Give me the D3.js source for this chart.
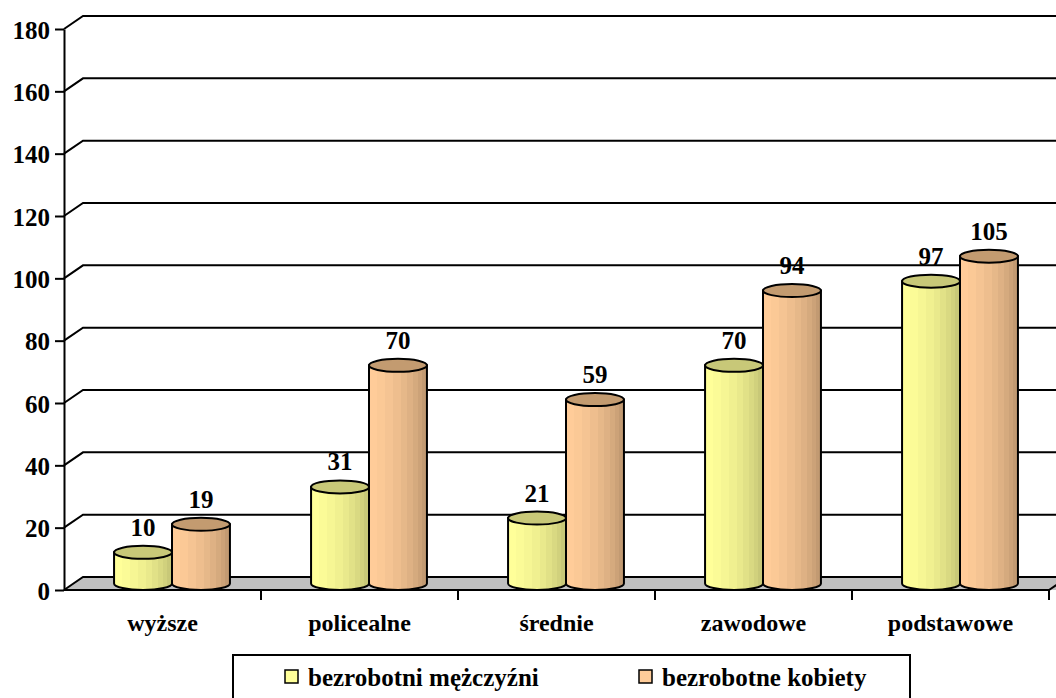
<!DOCTYPE html>
<html>
<head>
<meta charset="utf-8">
<script src="https://cdn.jsdelivr.net/npm/d3@7"></script>
<style>
  body { margin: 0; background: #fff; }
  svg text { font-family: "Liberation Serif", "Times New Roman", Tinos, "DejaVu Serif", serif; font-weight: bold; fill: #000; }
</style>
</head>
<body>
<svg id="chart" width="1056" height="698"></svg>
<script>
// dane
const categories = ["wyższe", "policealne", "średnie", "zawodowe", "podstawowe"];
const seriesNames = ["bezrobotni mężczyźni", "bezrobotne kobiety"];
const men = [10, 31, 21, 70, 97];
const women = [19, 70, 59, 94, 105];
const yTicks = [0, 20, 40, 60, 80, 100, 120, 140, 160, 180];

const seriesValues = [men, women];
const sideColors = [["#ffff99", "#c8c878"], ["#ffcc99", "#c29a72"]];
const topColors = ["#c8c878", "#c39b70"];
const swatch = ["#ffff99", "#ffcc99"];
const FONT = "'Liberation Serif', 'Times New Roman', Tinos, 'DejaVu Serif', serif";

// glebokosc 3D
const DX = 19, DY = -13;

const svg = d3.select("#chart");

const y = d3.scaleLinear().domain([0, 180]).range([590, 29]);
const x0 = d3.scaleBand().domain(categories).range([64, 1049]);
const x1 = d3.scaleBand().domain(seriesNames).range([0, x0.bandwidth()]).paddingOuter(0.7);

// gradienty dla cylindrow (schodkowe, jak fasety)
const defs = svg.append("defs");
const facets = [0, 0.14, 0.28, 0.42, 0.55, 0.66, 0.76, 0.84, 0.91, 1];
sideColors.forEach(function (c, i) {
  const g = defs.append("linearGradient").attr("id", "side" + i)
    .attr("x1", 0).attr("x2", 1).attr("y1", 0).attr("y2", 0);
  const interp = d3.interpolateRgb(c[0], c[1]);
  for (let k = 0; k < facets.length - 1; k++) {
    const t = k === 0 ? 0.02 : k / (facets.length - 2);
    const col = interp(Math.pow(t, 1.3));
    g.append("stop").attr("offset", facets[k]).attr("stop-color", col);
    g.append("stop").attr("offset", facets[k + 1]).attr("stop-color", col);
  }
});

// linie siatki (tylna sciana)
svg.append("g").selectAll("path")
  .data(yTicks.slice(1))
  .enter().append("path")
  .attr("d", function (d) {
    return "M64," + y(d) + "L" + (64 + DX) + "," + (y(d) + DY) + "L1080," + (y(d) + DY);
  })
  .attr("fill", "none").attr("stroke", "#000").attr("stroke-width", 2);

// podloga
svg.append("path")
  .attr("d", "M64," + y(0) + "L" + (64 + DX) + "," + (y(0) + DY) + "L1080," + (y(0) + DY) +
    "L1080," + y(0) + "L1049," + y(0) + "Z")
  .attr("fill", "#c0c0c0").attr("stroke", "none");
svg.append("path")
  .attr("d", "M64," + y(0) + "L" + (64 + DX) + "," + (y(0) + DY) + "L1080," + (y(0) + DY) +
    "M1049," + y(0) + "L" + (1049 + DX) + "," + (y(0) + DY))
  .attr("fill", "none").attr("stroke", "#000").attr("stroke-width", 2);

// os Y
const yAxis = svg.append("g")
  .attr("transform", "translate(64,0)")
  .call(d3.axisLeft(y).tickValues(yTicks).tickSize(9).tickPadding(5).tickSizeOuter(0));
yAxis.attr("font-family", null);
yAxis.select(".domain").attr("stroke", "#000").attr("stroke-width", 2);
yAxis.selectAll(".tick line").attr("stroke", "#000").attr("stroke-width", 2);
yAxis.selectAll(".tick text").attr("font-size", 25).attr("dy", "0.36em")
  .style("font-family", FONT).style("font-weight", "bold");

// os X
const xAxis = svg.append("g")
  .attr("transform", "translate(0," + y(0) + ")")
  .call(d3.axisBottom(x0).tickSize(0).tickPadding(24).tickSizeOuter(0));
xAxis.attr("font-family", null);
xAxis.select(".domain").remove();
xAxis.selectAll(".tick text").attr("font-size", 24)
  .style("font-family", FONT).style("font-weight", "bold");
svg.append("line").attr("x1", 64).attr("x2", 1049).attr("y1", y(0)).attr("y2", y(0))
  .attr("stroke", "#000").attr("stroke-width", 2);
svg.append("g").selectAll("line")
  .data(categories.slice(1).map(function (c) { return x0(c); }).concat([x0.range()[1]]))
  .enter().append("line")
  .attr("x1", function (d) { return d; }).attr("x2", function (d) { return d; })
  .attr("y1", y(0)).attr("y2", y(0) + 10)
  .attr("stroke", "#000").attr("stroke-width", 2);

// cylindry
const w = x1.bandwidth();
const ry = -DY / 2;
const bars = [];
categories.forEach(function (c, ci) {
  seriesNames.forEach(function (s, si) {
    bars.push({ cat: c, s: s, si: si, v: seriesValues[si][ci] });
  });
});

const barG = svg.append("g").selectAll("g")
  .data(bars)
  .enter().append("g");

barG.append("path")
  .attr("d", function (d) {
    const x = x0(d.cat) + x1(d.s) + DX / 2;
    const yt = y(d.v) + DY / 2;
    const yb = y(0) + DY / 2;
    return "M" + x + "," + yt + "L" + x + "," + yb +
      "A" + (w / 2) + "," + ry + " 0 0 0 " + (x + w) + "," + yb +
      "L" + (x + w) + "," + yt + "Z";
  })
  .attr("fill", function (d) { return "url(#side" + d.si + ")"; })
  .attr("stroke", "#000").attr("stroke-width", 2);

barG.append("ellipse")
  .attr("cx", function (d) { return x0(d.cat) + x1(d.s) + DX / 2 + w / 2; })
  .attr("cy", function (d) { return y(d.v) + DY / 2; })
  .attr("rx", w / 2).attr("ry", ry)
  .attr("fill", function (d) { return topColors[d.si]; })
  .attr("stroke", "#000").attr("stroke-width", 2);

// etykiety wartosci
svg.append("g").selectAll("text")
  .data(bars)
  .enter().append("text")
  .attr("x", function (d) { return x0(d.cat) + x1(d.s) + DX / 2 + w / 2; })
  .attr("y", function (d) { return y(d.v) - 23; })
  .attr("text-anchor", "middle")
  .attr("font-size", 25)
  .text(function (d) { return d.v; });

// legenda
const legend = svg.append("g");
legend.append("rect").attr("x", 233).attr("y", 655).attr("width", 677).attr("height", 70)
  .attr("fill", "#fff").attr("stroke", "#000").attr("stroke-width", 2);
const legendX = [285, 639];
seriesNames.forEach(function (s, i) {
  legend.append("rect").attr("x", legendX[i]).attr("y", 670).attr("width", 13).attr("height", 13)
    .attr("fill", swatch[i]).attr("stroke", "#000").attr("stroke-width", 1.5);
  legend.append("text").attr("x", legendX[i] + 23).attr("y", 686)
    .attr("font-size", 25).text(s);
});
</script>
</body>
</html>
